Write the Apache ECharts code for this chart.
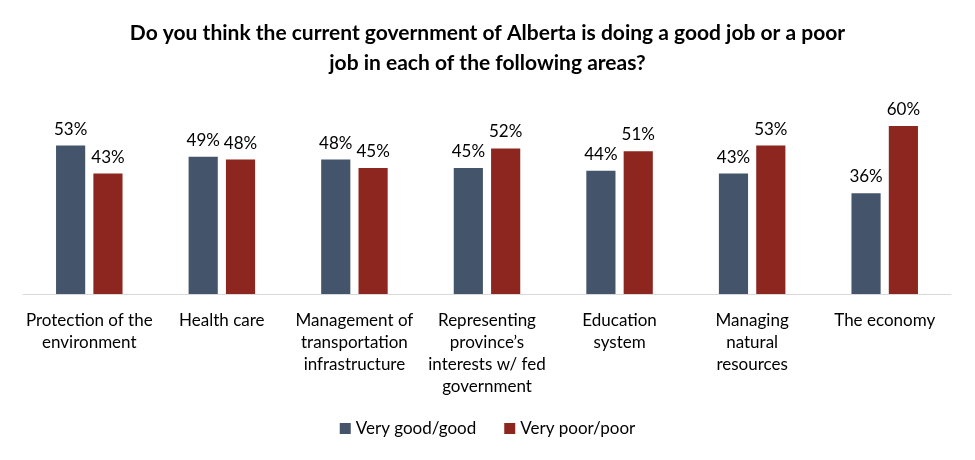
<!DOCTYPE html>
<html><head><meta charset="utf-8">
<script src="https://cdn.jsdelivr.net/npm/echarts@6/dist/echarts.min.js"></script>
<style>html,body{margin:0;padding:0;background:#fff}#c{width:975px;height:460px}</style>
</head><body><div id="c"></div>
<script>
const categories = ["Protection of the\nenvironment","Health care","Management of\ntransportation\ninfrastructure","Representing\nprovince\u2019s\ninterests w/ fed\ngovernment","Education\nsystem","Managing\nnatural\nresources","The economy"];
const goodValues = [53,49,48,45,44,43,36];
const poorValues = [43,48,45,52,51,53,60];
const seriesNames = ["Very good/good","Very poor/poor"];
const titleText = "Do you think the current government of Alberta is doing a good job or a poor\njob in each of the following areas?";

const font = "Lato, 'Open Sans', sans-serif";
const chart = echarts.init(document.getElementById('c'));
chart.setOption({
  animation:false,
  title:{text:titleText,left:'center',top:13,textStyle:{fontFamily:font,fontSize:21,fontWeight:'bold',color:'#000',lineHeight:30}},
  legend:{bottom:18,left:'center',itemWidth:11,itemHeight:11,itemGap:28,icon:'rect',textStyle:{fontFamily:font,fontSize:17,color:'#000'},data:seriesNames},
  grid:{left:23,right:24,top:98,bottom:166,containLabel:false},
  xAxis:{type:'category',data:categories,axisTick:{show:false},axisLine:{lineStyle:{color:'#d9d9d9',width:1}},
    axisLabel:{interval:0,fontFamily:font,fontSize:17,color:'#000',lineHeight:22,margin:16}},
  yAxis:{type:'value',min:0,max:70,show:false,splitLine:{show:false}},
  series:[
    {name:seriesNames[0],type:'bar',data:goodValues,barWidth:'22%',barGap:'28%',itemStyle:{color:'#44546A'},
     label:{show:true,position:'top',distance:8,formatter:'{c}%',fontFamily:font,fontSize:17,color:'#000'}},
    {name:seriesNames[1],type:'bar',data:poorValues,barWidth:'22%',itemStyle:{color:'#8E2620'},
     label:{show:true,position:'top',distance:8,formatter:'{c}%',fontFamily:font,fontSize:17,color:'#000'}}
  ]
});
</script></body></html>
